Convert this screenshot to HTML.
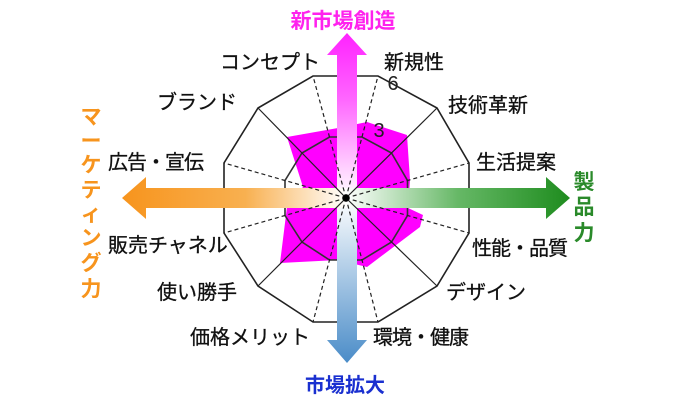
<!DOCTYPE html>
<html><head><meta charset="utf-8"><style>
html,body{margin:0;padding:0;background:#fff;}
svg{display:block;}
text{font-family:"Liberation Sans","Noto Sans CJK JP",sans-serif;}
</style></head><body>
<svg width="680" height="403" viewBox="0 0 680 403" xmlns="http://www.w3.org/2000/svg">
<defs>
<linearGradient id="gu" x1="0" y1="1" x2="0" y2="0"><stop offset="0" stop-color="#fff"/><stop offset="0.6" stop-color="#ff66ff"/><stop offset="1" stop-color="#ff22ff"/></linearGradient>
<linearGradient id="gd" x1="0" y1="0" x2="0" y2="1"><stop offset="0" stop-color="#fff"/><stop offset="1" stop-color="#4a8cc8"/></linearGradient>
<linearGradient id="gl" x1="1" y1="0" x2="0" y2="0"><stop offset="0" stop-color="#fff"/><stop offset="0.45" stop-color="#f8b050"/><stop offset="1" stop-color="#f7941d"/></linearGradient>
<linearGradient id="gr" x1="0" y1="0" x2="1" y2="0"><stop offset="0" stop-color="#fff"/><stop offset="0.5" stop-color="#66b866"/><stop offset="1" stop-color="#1e8c1e"/></linearGradient>
</defs>
<polygon fill="#ff00ff" points="287,137 338,128 367,122 407,135 410,180 408,208 423,215 420,227 367,267 338,260 280,263 287,207 303,187"/>
<polygon fill="none" stroke="#222" stroke-width="1.6" points="313,76 378,76 437,108 469,163 469,233 437,286 378,322 313,322 258,286 224,233 224,163 258,108"/>
<polygon fill="none" stroke="#333" stroke-width="1.6" points="329.5,137 362,137 391.5,153 407.5,180.5 407.5,215.5 391.5,242 362,260 329.5,260 302,242 285,215.5 285,180.5 302,153"/>
<polygon fill="url(#gu)" points="337,198 337,55 327,55 347,33 367,55 357,55 357,198"/>
<polygon fill="url(#gd)" points="337,198 357,198 357,340 367,340 347,363 327,340 337,340"/>
<polygon fill="url(#gl)" points="346,188 146,188 146,177 122,198 146,219 146,208 346,208"/>
<polygon fill="url(#gr)" points="346,188 546,188 546,177 570,198 546,219 546,208 346,208"/>
<g stroke="#222" stroke-width="1.2" fill="none">
<line x1="346" y1="198" x2="313" y2="76" stroke-dasharray="4,3"/>
<line x1="346" y1="198" x2="378" y2="76" stroke-dasharray="4,3"/>
<line x1="346" y1="198" x2="437" y2="108"/>
<line x1="346" y1="198" x2="469" y2="163" stroke-dasharray="4,3"/>
<line x1="346" y1="198" x2="469" y2="233" stroke-dasharray="4,3"/>
<line x1="346" y1="198" x2="437" y2="286"/>
<line x1="346" y1="198" x2="378" y2="322" stroke-dasharray="4,3"/>
<line x1="346" y1="198" x2="313" y2="322" stroke-dasharray="4,3"/>
<line x1="346" y1="198" x2="258" y2="286"/>
<line x1="346" y1="198" x2="224" y2="233" stroke-dasharray="4,3"/>
<line x1="346" y1="198" x2="224" y2="163" stroke-dasharray="4,3"/>
<line x1="346" y1="198" x2="258" y2="108"/>
</g>
<circle cx="346" cy="198" r="3.5" fill="#000"/>
<text x="393" y="90" font-size="20" fill="#222" text-anchor="middle">6</text>
<text x="379" y="137" font-size="20" fill="#222" text-anchor="middle">3</text>
<text x="343" y="28" font-size="21" font-weight="bold" fill="#ff22ee" text-anchor="middle">新市場創造</text>
<text x="345" y="392" font-size="20" font-weight="bold" fill="#1a30d0" text-anchor="middle">市場拡大</text>
<g font-size="21" font-weight="bold" fill="#2a8a2a" text-anchor="middle">
<text x="584" y="189">製</text><text x="584" y="214">品</text><text x="584" y="240">力</text>
</g>
<g font-size="21" font-weight="bold" fill="#f7941d" text-anchor="middle">
<text x="91" y="124">マ</text><text x="91" y="148">ー</text><text x="91" y="172">ケ</text><text x="91" y="197">テ</text><text x="91" y="221">ィ</text><text x="91" y="245">ン</text><text x="91" y="270">グ</text><text x="91" y="296">力</text>
</g>
<g font-size="20" fill="#111" stroke="#111" stroke-width="0.3">
<text x="220" y="69">コンセプト</text>
<text x="384" y="69">新規性</text>
<text x="448" y="112">技術革新</text>
<text x="476" y="169">生活提案</text>
<text x="472" y="255" letter-spacing="-1">性能・品質</text>
<text x="446" y="299">デザイン</text>
<text x="373" y="344" letter-spacing="-1">環境・健康</text>
<text x="190" y="344">価格メリット</text>
<text x="157" y="299">使い勝手</text>
<text x="108" y="252">販売チャネル</text>
<text x="108" y="169" letter-spacing="-1">広告・宣伝</text>
<text x="157" y="109">ブランド</text>
</g>
</svg>
</body></html>
